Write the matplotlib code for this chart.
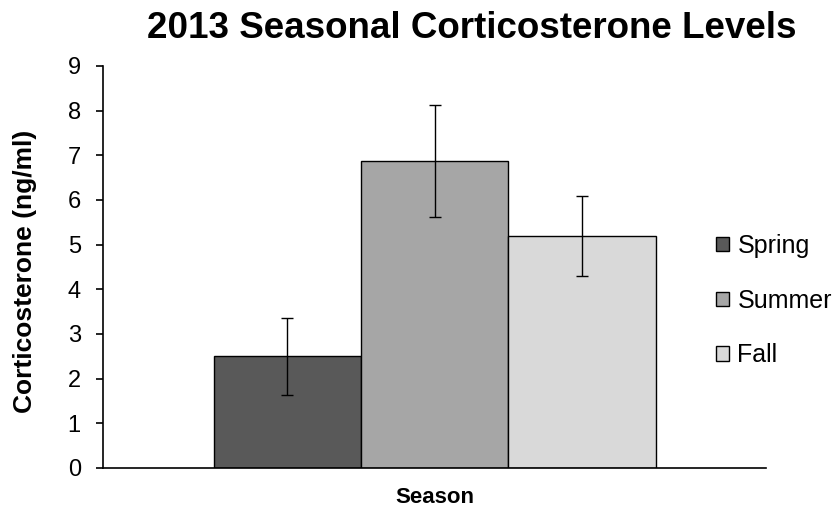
import matplotlib
matplotlib.use("Agg")
import matplotlib.pyplot as plt
from matplotlib.patches import Patch

plt.rcParams['font.family'] = ['Liberation Sans', 'DejaVu Sans']

seasons = ["Spring", "Summer", "Fall"]
means = [2.5, 6.87, 5.2]
errors = [0.86, 1.25, 0.9]
colors = ["#595959", "#a6a6a6", "#d9d9d9"]

fig = plt.figure(figsize=(8.39, 5.14), dpi=100)
ax = fig.add_axes([0.1228, 0.0895, 0.7902, 0.7821])

xpos = [-1, 0, 1]
ax.bar(xpos, means, width=1.0, color=colors, edgecolor="black", linewidth=1.0, zorder=2)
ax.errorbar(xpos, means, yerr=errors, fmt="none", ecolor="black",
            elinewidth=1.0, capsize=4, capthick=1.0, zorder=3)

ax.set_xlim(-2.25, 2.25)
ax.set_ylim(0, 9)
ax.set_yticks(range(0, 10))
ax.set_xticks([])
ax.tick_params(axis="y", labelsize=17, length=5, width=1.2, direction="out", pad=11)
for s in ["top", "right"]:
    ax.spines[s].set_visible(False)
for s in ["left", "bottom"]:
    ax.spines[s].set_linewidth(1.2)

ax.set_xlabel("Season", fontsize=16, fontweight="bold", labelpad=14)
ax.set_ylabel("Corticosterone (ng/ml)", fontsize=19, fontweight="bold")
ax.yaxis.set_label_coords(-0.0995, 0.489)
fig.suptitle("2013 Seasonal Corticosterone Levels", fontsize=26.5, fontweight="bold",
             x=0.562, y=0.978)

handles = [Patch(facecolor=c, edgecolor="black", linewidth=1.0) for c in colors]
fig.legend(handles, seasons, loc="center left", bbox_to_anchor=(0.827, 0.415),
           frameon=False, fontsize=18, handlelength=0.52, handleheight=0.52,
           handletextpad=0.32, labelspacing=1.23)

fig.savefig("out.png", dpi=100)
